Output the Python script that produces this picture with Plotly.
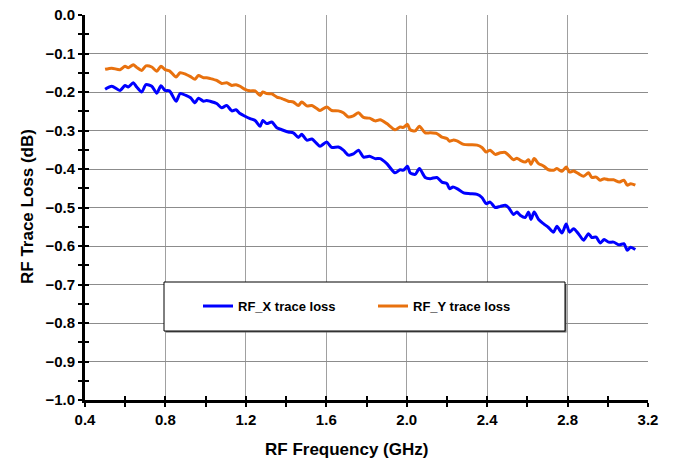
import plotly.graph_objects as go

freq_ghz = [0.500, 0.533, 0.574, 0.599, 0.615, 0.640, 0.657, 0.682, 0.703, 0.732,
            0.757, 0.778, 0.798, 0.820, 0.853, 0.873, 0.902, 0.925, 0.947, 0.964,
            0.989, 1.005, 1.022, 1.055, 1.080, 1.105, 1.130, 1.151, 1.171, 1.196,
            1.221, 1.246, 1.271, 1.284, 1.304, 1.329, 1.354, 1.379, 1.411, 1.436,
            1.461, 1.478, 1.503, 1.528, 1.553, 1.569, 1.602, 1.627, 1.660, 1.685,
            1.710, 1.735, 1.760, 1.785, 1.815, 1.843, 1.868, 1.901, 1.942, 1.967,
            1.984, 2.004, 2.017, 2.042, 2.063, 2.092, 2.117, 2.150, 2.175, 2.200,
            2.213, 2.230, 2.250, 2.283, 2.316, 2.350, 2.374, 2.395, 2.415, 2.440,
            2.465, 2.490, 2.506, 2.531, 2.548, 2.564, 2.589, 2.606, 2.618, 2.634,
            2.656, 2.680, 2.705, 2.730, 2.747, 2.772, 2.793, 2.810, 2.830, 2.854,
            2.880, 2.904, 2.921, 2.942, 2.962, 2.982, 3.004, 3.029, 3.057, 3.080,
            3.097, 3.114, 3.137]

rf_x_loss = [-0.193, -0.185, -0.196, -0.183, -0.187, -0.176, -0.187, -0.200, -0.181, -0.185,
             -0.203, -0.184, -0.196, -0.197, -0.224, -0.204, -0.209, -0.215, -0.228, -0.216,
             -0.224, -0.222, -0.224, -0.230, -0.241, -0.235, -0.249, -0.246, -0.256, -0.263,
             -0.269, -0.274, -0.289, -0.274, -0.282, -0.278, -0.293, -0.298, -0.304, -0.306,
             -0.318, -0.310, -0.325, -0.322, -0.334, -0.341, -0.330, -0.344, -0.343, -0.351,
             -0.364, -0.361, -0.351, -0.369, -0.367, -0.373, -0.373, -0.386, -0.410, -0.402,
             -0.403, -0.393, -0.410, -0.414, -0.399, -0.422, -0.425, -0.422, -0.434, -0.438,
             -0.451, -0.447, -0.451, -0.462, -0.464, -0.466, -0.474, -0.490, -0.486, -0.500,
             -0.497, -0.494, -0.500, -0.518, -0.512, -0.520, -0.526, -0.512, -0.531, -0.512,
             -0.531, -0.542, -0.552, -0.564, -0.549, -0.566, -0.543, -0.564, -0.555, -0.568,
             -0.585, -0.568, -0.578, -0.577, -0.592, -0.583, -0.590, -0.590, -0.597, -0.594,
             -0.611, -0.603, -0.609]

rf_y_loss = [-0.141, -0.138, -0.142, -0.133, -0.137, -0.129, -0.136, -0.144, -0.132, -0.135,
             -0.146, -0.133, -0.142, -0.145, -0.161, -0.150, -0.154, -0.160, -0.167, -0.157,
             -0.163, -0.163, -0.165, -0.170, -0.178, -0.176, -0.183, -0.181, -0.185, -0.193,
             -0.197, -0.197, -0.209, -0.200, -0.204, -0.205, -0.213, -0.217, -0.224, -0.226,
             -0.235, -0.226, -0.236, -0.235, -0.243, -0.248, -0.239, -0.248, -0.249, -0.254,
             -0.265, -0.262, -0.254, -0.266, -0.268, -0.275, -0.272, -0.282, -0.298, -0.291,
             -0.292, -0.284, -0.298, -0.301, -0.289, -0.306, -0.306, -0.308, -0.317, -0.321,
             -0.328, -0.325, -0.327, -0.336, -0.337, -0.338, -0.344, -0.356, -0.351, -0.362,
             -0.358, -0.357, -0.364, -0.376, -0.372, -0.377, -0.382, -0.376, -0.388, -0.373,
             -0.386, -0.392, -0.402, -0.403, -0.399, -0.406, -0.395, -0.408, -0.405, -0.412,
             -0.419, -0.410, -0.422, -0.421, -0.429, -0.425, -0.428, -0.428, -0.434, -0.429,
             -0.442, -0.438, -0.442]

series_names = ["RF_X trace loss", "RF_Y trace loss"]
series_colors = ["#0000FF", "#E8710E"]

x_title = "RF Frequency (GHz)"
y_title = "RF Trace Loss (dB)"

FONT = "Liberation Sans, Arial, sans-serif"

fig = go.Figure()
for name, vals, col in zip(series_names, [rf_x_loss, rf_y_loss], series_colors):
    fig.add_trace(go.Scatter(x=freq_ghz, y=vals, mode="lines", name=name,
                             line=dict(color=col, width=3, shape="spline", smoothing=0.7)))

# helper trace for overlay tick axes (inside ticks)
fig.add_trace(go.Scatter(x=[None], y=[None], xaxis="x2", yaxis="y2",
                         showlegend=False, hoverinfo="skip"))

tickfont = dict(family=FONT, size=15, color="black", weight="bold")

fig.update_layout(
    width=676, height=461,
    margin=dict(l=85, r=28, t=15, b=61),
    paper_bgcolor="white", plot_bgcolor="white",
    font=dict(family=FONT, color="black"),
    xaxis=dict(range=[0.4, 3.2], tick0=0.4, dtick=0.4, tickformat=".1f",
               automargin=False, ticklabeloverflow="allow",
               ticks="outside", ticklen=4, tickwidth=1.5, tickcolor="black",
               showline=True, linecolor="black", linewidth=3,
               showgrid=True, gridcolor="#a0a0a0", gridwidth=1, zeroline=False,
               tickfont=tickfont,
               minor=dict(tick0=0.4, dtick=0.2, ticks="outside", ticklen=4,
                          tickwidth=1.5, tickcolor="black", showgrid=False)),
    yaxis=dict(range=[-1.0, 0.0], tick0=0, dtick=0.1, tickformat=".1f",
               automargin=False, ticklabeloverflow="allow",
               ticks="outside", ticklen=4, tickwidth=1.5, tickcolor="black",
               showline=True, linecolor="black", linewidth=3,
               showgrid=True, gridcolor="#8c8c8c", gridwidth=1, zeroline=False,
               tickfont=tickfont,
               minor=dict(tick0=0, dtick=0.05, ticks="outside", ticklen=4,
                          tickwidth=1.5, tickcolor="black", showgrid=False)),
    xaxis2=dict(overlaying="x", anchor="y2", side="bottom", range=[0.4, 3.2],
                automargin=False,
                tick0=0.4, dtick=0.2, ticks="inside", ticklen=4, tickwidth=1.5,
                tickcolor="black", showticklabels=False, showgrid=False,
                showline=False, zeroline=False),
    yaxis2=dict(overlaying="y", anchor="x2", side="left", range=[-1.0, 0.0],
                automargin=False,
                tick0=0, dtick=0.05, ticks="inside", ticklen=4, tickwidth=1.5,
                tickcolor="black", showticklabels=False, showgrid=False,
                showline=False, zeroline=False),
    showlegend=True,
    legend=dict(orientation="h", x=(198 - 85) / 563, xanchor="left", y=0.244, yanchor="middle",
                bgcolor="rgba(0,0,0,0)", borderwidth=0,
                font=dict(family=FONT, size=13, color="black", weight="bold"),
                entrywidth=130, entrywidthmode="pixels", itemwidth=30),
    annotations=[
        dict(text=x_title, xref="paper", yref="paper",
             x=(346 - 85) / 563, y=-(449 - 400) / 385,
             xanchor="center", yanchor="middle", showarrow=False,
             font=dict(family=FONT, size=17, color="black", weight="bold")),
        dict(text=y_title, xref="paper", yref="paper",
             x=-(85 - 27) / 563, y=(400 - 207) / 385, textangle=-90,
             xanchor="center", yanchor="middle", showarrow=False,
             font=dict(family=FONT, size=17, color="black", weight="bold")),
    ],
    shapes=[
        dict(type="rect", xref="paper", yref="paper",
             x0=(166 - 85) / 563, x1=(566.5 - 85) / 563,
             y0=(400 - 332.5) / 385, y1=(400 - 284) / 385,
             line=dict(width=0), fillcolor="#666666", layer="above"),
        dict(type="rect", xref="paper", yref="paper",
             x0=(164 - 85) / 563, x1=(565 - 85) / 563,
             y0=(400 - 331) / 385, y1=(400 - 282) / 385,
             line=dict(color="black", width=1), fillcolor="white", layer="above"),
    ],
)

fig.write_html("out.html", config={"displayModeBar": False},
               post_script="document.body.style.margin='0';document.body.style.padding='0';")
